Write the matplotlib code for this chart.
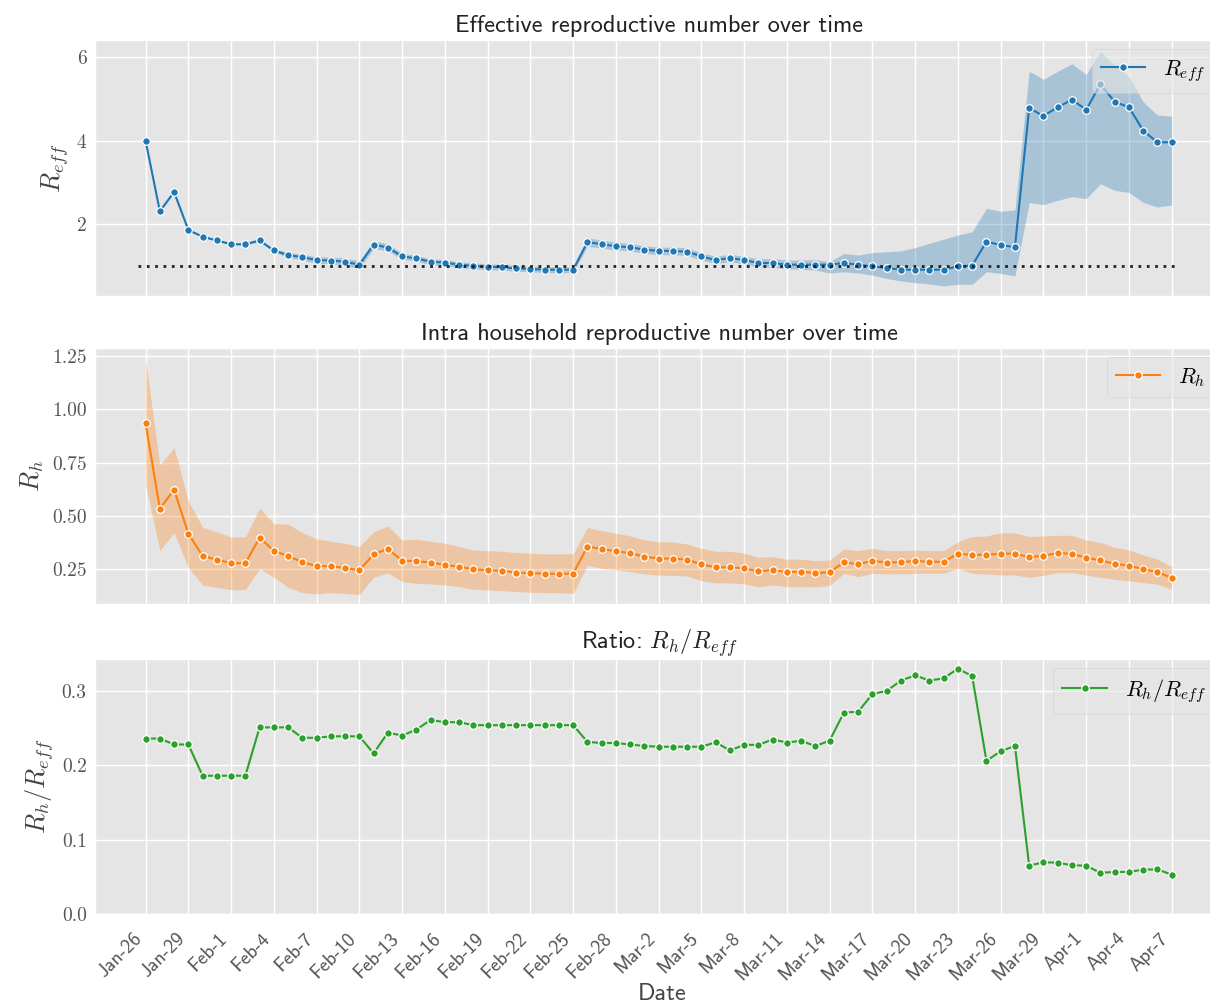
import numpy as np
import matplotlib
import matplotlib.pyplot as plt

plt.style.use('ggplot')
plt.rcParams['mathtext.fontset'] = 'cm'
plt.rcParams['axes.unicode_minus'] = False

# daily values, Jan-26 .. Apr-7
reff = [4.0, 2.31, 2.77, 1.86, 1.70, 1.61, 1.52, 1.52, 1.61, 1.37,
        1.26, 1.21, 1.14, 1.13, 1.10, 1.03, 1.51, 1.44, 1.23, 1.18,
        1.10, 1.08, 1.03, 1.00, 0.98, 0.97, 0.94, 0.93, 0.91, 0.91,
        0.91, 1.57, 1.52, 1.47, 1.45, 1.39, 1.36, 1.36, 1.34, 1.23,
        1.14, 1.19, 1.14, 1.07, 1.07, 1.03, 1.03, 1.03, 1.03, 1.07,
        1.03, 0.99, 0.95, 0.91, 0.91, 0.91, 0.91, 0.99, 1.01, 1.58,
        1.50, 1.45, 4.78, 4.59, 4.80, 4.98, 4.74, 5.35, 4.93, 4.80,
        4.24, 3.96, 3.96]
reff_lo = [3.98, 2.29, 2.75, 1.84, 1.68, 1.59, 1.50, 1.50, 1.58, 1.33,
           1.20, 1.14, 1.06, 1.05, 1.01, 0.94, 1.42, 1.36, 1.16, 1.11,
           1.03, 1.01, 0.96, 0.93, 0.91, 0.90, 0.87, 0.86, 0.84, 0.84,
           0.84, 1.47, 1.43, 1.38, 1.36, 1.30, 1.27, 1.27, 1.25, 1.14,
           1.06, 1.10, 1.05, 0.98, 0.97, 0.93, 0.92, 0.90, 0.83, 0.86,
           0.83, 0.78, 0.70, 0.64, 0.60, 0.57, 0.52, 0.56, 0.56, 0.86,
           0.82, 0.76, 2.52, 2.47, 2.57, 2.66, 2.61, 2.97, 2.81, 2.76,
           2.52, 2.41, 2.46]
reff_hi = [4.02, 2.33, 2.79, 1.88, 1.72, 1.63, 1.54, 1.54, 1.64, 1.41,
           1.32, 1.28, 1.22, 1.21, 1.19, 1.12, 1.60, 1.53, 1.30, 1.25,
           1.17, 1.15, 1.10, 1.07, 1.05, 1.04, 1.01, 1.00, 0.98, 0.98,
           0.98, 1.67, 1.62, 1.57, 1.54, 1.48, 1.45, 1.45, 1.43, 1.32,
           1.23, 1.28, 1.23, 1.17, 1.17, 1.14, 1.14, 1.15, 1.10, 1.30,
           1.26, 1.32, 1.34, 1.36, 1.44, 1.54, 1.64, 1.74, 1.82, 2.38,
           2.31, 2.34, 5.66, 5.47, 5.66, 5.84, 5.59, 6.13, 5.80, 5.53,
           4.93, 4.61, 4.59]

rh = [0.934, 0.534, 0.623, 0.417, 0.312, 0.295, 0.278, 0.278, 0.398, 0.336,
      0.312, 0.283, 0.265, 0.264, 0.256, 0.245, 0.320, 0.346, 0.290, 0.288,
      0.281, 0.271, 0.261, 0.250, 0.245, 0.243, 0.234, 0.232, 0.229, 0.229,
      0.229, 0.356, 0.345, 0.334, 0.326, 0.309, 0.300, 0.300, 0.295, 0.273,
      0.259, 0.259, 0.254, 0.240, 0.247, 0.236, 0.239, 0.231, 0.236, 0.283,
      0.273, 0.290, 0.281, 0.283, 0.289, 0.285, 0.285, 0.323, 0.317, 0.318,
      0.323, 0.323, 0.306, 0.314, 0.325, 0.323, 0.303, 0.292, 0.275, 0.267,
      0.250, 0.237, 0.209]
rh_lo = [0.645, 0.337, 0.421, 0.257, 0.176, 0.165, 0.154, 0.154, 0.253, 0.212,
         0.165, 0.140, 0.134, 0.140, 0.137, 0.131, 0.212, 0.234, 0.192, 0.184,
         0.181, 0.176, 0.168, 0.156, 0.153, 0.150, 0.145, 0.142, 0.140, 0.140,
         0.137, 0.267, 0.254, 0.247, 0.239, 0.228, 0.222, 0.221, 0.218, 0.196,
         0.186, 0.186, 0.181, 0.168, 0.176, 0.168, 0.168, 0.167, 0.174, 0.231,
         0.215, 0.231, 0.228, 0.228, 0.231, 0.231, 0.231, 0.254, 0.231, 0.228,
         0.223, 0.223, 0.212, 0.221, 0.234, 0.234, 0.222, 0.212, 0.203, 0.196,
         0.187, 0.180, 0.156]
rh_hi = [1.231, 0.739, 0.820, 0.570, 0.447, 0.425, 0.401, 0.401, 0.536, 0.464,
         0.461, 0.421, 0.393, 0.381, 0.372, 0.356, 0.426, 0.453, 0.387, 0.390,
         0.381, 0.372, 0.356, 0.340, 0.337, 0.334, 0.328, 0.325, 0.322, 0.322,
         0.322, 0.445, 0.431, 0.419, 0.406, 0.387, 0.379, 0.378, 0.368, 0.348,
         0.334, 0.334, 0.325, 0.306, 0.309, 0.297, 0.297, 0.290, 0.293, 0.345,
         0.337, 0.348, 0.337, 0.337, 0.340, 0.337, 0.337, 0.379, 0.403, 0.406,
         0.421, 0.421, 0.403, 0.406, 0.409, 0.409, 0.387, 0.375, 0.353, 0.340,
         0.317, 0.297, 0.262]

ratio = [0.236, 0.236, 0.228, 0.228, 0.186, 0.186, 0.186, 0.186, 0.251, 0.251,
         0.251, 0.237, 0.237, 0.239, 0.239, 0.239, 0.216, 0.244, 0.240, 0.248,
         0.261, 0.258, 0.258, 0.254, 0.254, 0.254, 0.254, 0.254, 0.254, 0.254,
         0.254, 0.2315, 0.230, 0.230, 0.228, 0.226, 0.225, 0.225, 0.225, 0.225,
         0.231, 0.220, 0.2275, 0.2275, 0.2347, 0.2306, 0.233, 0.2258, 0.2333, 0.271,
         0.272, 0.296, 0.300, 0.314, 0.321, 0.314, 0.317, 0.330, 0.320, 0.206,
         0.219, 0.226, 0.065, 0.0696, 0.069, 0.0656, 0.065, 0.0553, 0.0566, 0.0566,
         0.0597, 0.060, 0.053]

tick_labels = ['Jan-26', 'Jan-29', 'Feb-1', 'Feb-4', 'Feb-7', 'Feb-10', 'Feb-13',
               'Feb-16', 'Feb-19', 'Feb-22', 'Feb-25', 'Feb-28', 'Mar-2', 'Mar-5',
               'Mar-8', 'Mar-11', 'Mar-14', 'Mar-17', 'Mar-20', 'Mar-23', 'Mar-26',
               'Mar-29', 'Apr-1', 'Apr-4', 'Apr-7']

days = np.arange(len(reff))
tick_pos = days[::3]

blue, orange, green = '#1f77b4', '#ff7f0e', '#2ca02c'
sans = ['cmss10', 'DejaVu Sans']
serif = ['cmr10', 'DejaVu Serif']

fig = plt.figure(figsize=(12.1, 10.07), dpi=100)
w = (1223 - 95) / 1210
ax1 = fig.add_axes([95 / 1210, 1 - 296 / 1007, w, 256 / 1007])
ax2 = fig.add_axes([95 / 1210, 1 - 604 / 1007, w, 256 / 1007])
ax3 = fig.add_axes([95 / 1210, 1 - 914 / 1007, w, 255 / 1007])

mk = dict(marker='o', markersize=5.5, markeredgecolor='white', markeredgewidth=0.9, linewidth=1.5)

ax1.fill_between(days, reff_lo, reff_hi, color=blue, alpha=0.3, linewidth=0)
ax1.plot(days, reff, color=blue, label=r'$R_{eff}$', **mk)
ax1.hlines(1, -0.5, 72.5, colors='#222222', linestyles=(0, (1, 2)), linewidth=2)
ax1.set_ylim(0.28, 6.41)
ax1.set_yticks([2, 4, 6])
ax1.set_title('Effective reproductive number over time', fontsize=17.5, family=sans, color='#222222')
ax1.set_ylabel(r'$R_{eff}$', fontsize=19, color='#444444')

ax2.fill_between(days, rh_lo, rh_hi, color=orange, alpha=0.3, linewidth=0)
ax2.plot(days, rh, color=orange, label=r'$R_h$', **mk)
ax2.set_ylim(0.087, 1.287)
ax2.set_yticks([0.25, 0.5, 0.75, 1.0, 1.25])
ax2.set_yticklabels(['0.25', '0.50', '0.75', '1.00', '1.25'])
ax2.set_title('Intra household reproductive number over time', fontsize=17.5, family=sans, color='#222222')
ax2.set_ylabel(r'$R_h$', fontsize=19, color='#444444')

ax3.plot(days, ratio, color=green, label=r'$R_h/R_{eff}$', **mk)
ax3.set_ylim(0, 0.343)
ax3.set_yticks([0.0, 0.1, 0.2, 0.3])
ax3.set_yticklabels(['0.0', '0.1', '0.2', '0.3'])
ax3.set_title(r'Ratio: $R_h/R_{eff}$', fontsize=17.5, family=sans, color='#222222')
ax3.set_ylabel(r'$R_h/R_{eff}$', fontsize=19, color='#444444')

for ax in (ax1, ax2, ax3):
    ax.set_facecolor('#E5E5E5')
    ax.grid(True, color='white', linewidth=1.0)
    ax.set_xlim(-3.55, 75.6)
    ax.set_xticks(tick_pos)
    ax.tick_params(length=0, pad=6)
    for t in ax.get_yticklabels():
        t.set_family(serif)
        t.set_fontsize(14)
        t.set_color('#555555')
    leg = ax.legend(loc='upper right', fontsize=16, framealpha=0.6, facecolor='#E5E5E5',
                    edgecolor='#CCCCCC', borderaxespad=0.4)

ax1.set_xticklabels([])
ax2.set_xticklabels([])
ax3.tick_params(axis='x', pad=11)
ax3.set_xticklabels(tick_labels, rotation=45, ha='right',
                    family=sans, fontsize=14, color='#555555')
# place the axis label at a fixed spot under the rotated tick labels
fig.text(662 / 1210, 1 - 994 / 1007, 'Date', ha='center', va='center',
         fontsize=17.5, family=sans, color='#444444')

plt.savefig('out.png', dpi=100)
